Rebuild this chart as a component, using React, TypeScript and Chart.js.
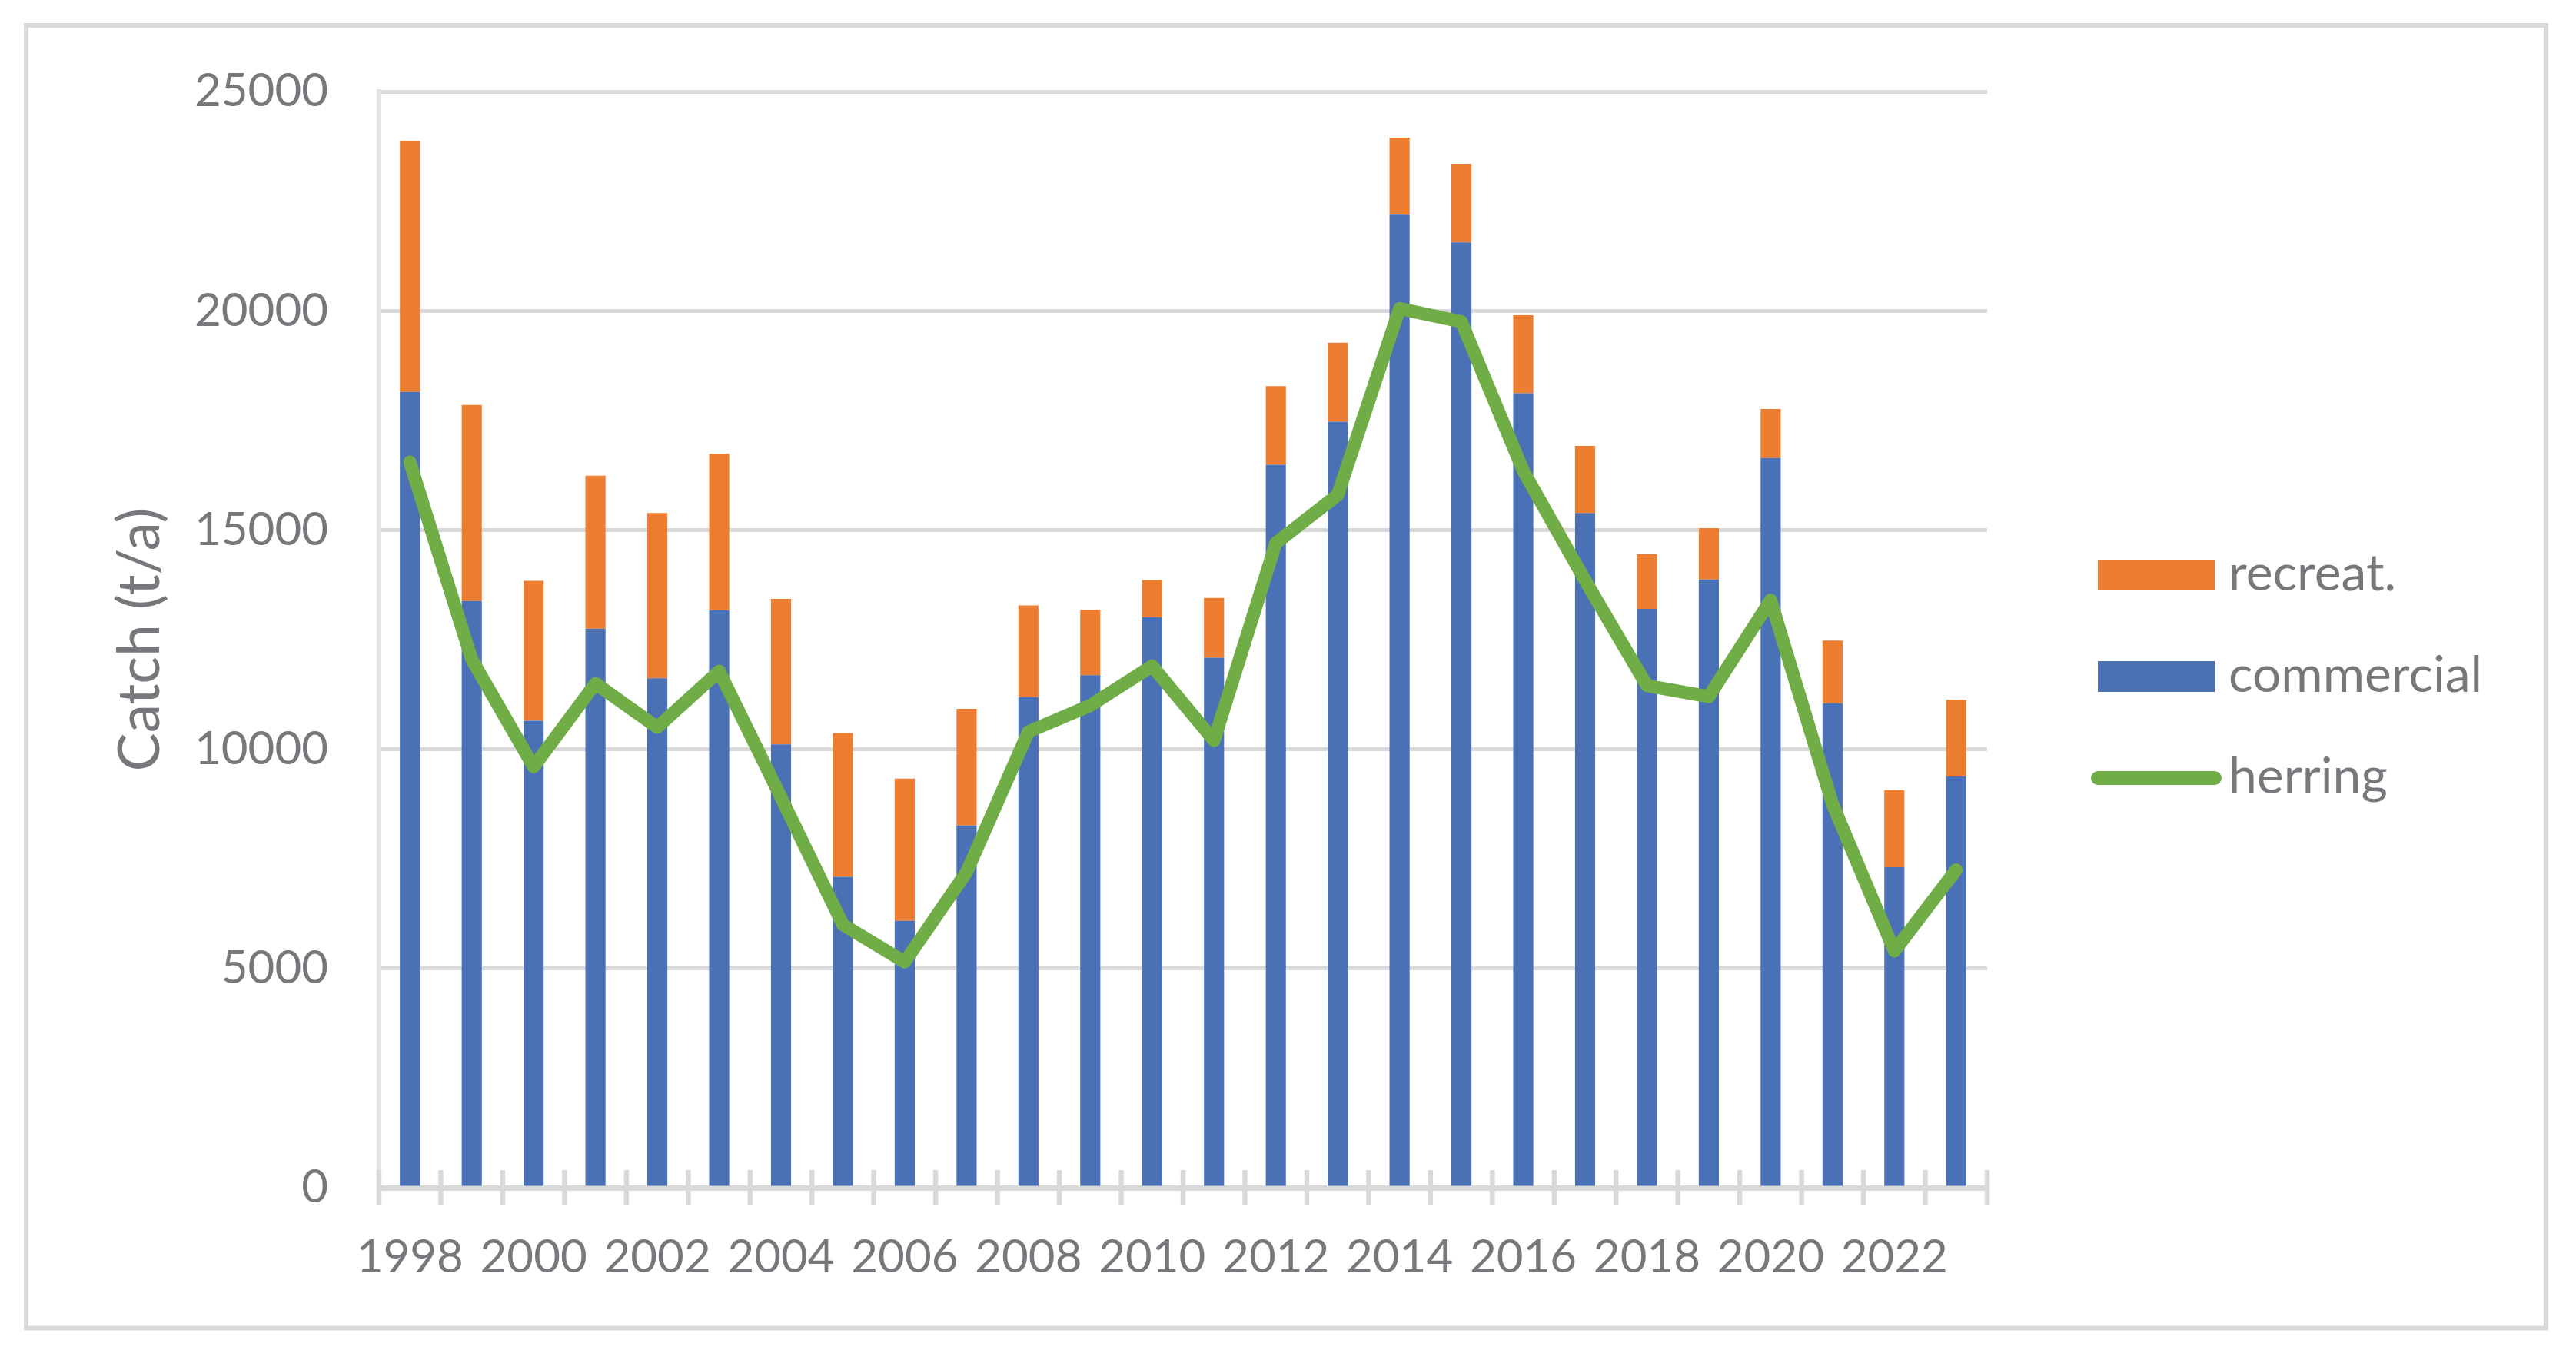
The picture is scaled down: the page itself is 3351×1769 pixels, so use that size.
import React, { useEffect, useRef } from 'react';
import { Chart, registerables } from 'chart.js';

Chart.register(...registerables);

const W = 3351;
const H = 1769;

const YEARS = ['1998', '1999', '2000', '2001', '2002', '2003', '2004', '2005', '2006', '2007', '2008', '2009', '2010', '2011', '2012', '2013', '2014', '2015', '2016', '2017', '2018', '2019', '2020', '2021', '2022', '2023'];
const COMMERCIAL = [18150, 13380, 10650, 12750, 11620, 13170, 10110, 7090, 6090, 8260, 11190, 11690, 13010, 12090, 16490, 17470, 22190, 21560, 18120, 15390, 13200, 13870, 16640, 11050, 7310, 9380];
const RECREAT = [5720, 4470, 3190, 3490, 3770, 3570, 3320, 3280, 3240, 2660, 2090, 1490, 850, 1360, 1790, 1800, 1760, 1790, 1780, 1530, 1250, 1170, 1120, 1430, 1760, 1750];
const HERRING = [16550, 12050, 9600, 11500, 10500, 11780, 8900, 6000, 5150, 7200, 10400, 11000, 11900, 10200, 14700, 15800, 20050, 19750, 16350, 13850, 11450, 11200, 13400, 8750, 5400, 7250];
const LEGEND_ORDER = ['recreat.', 'commercial', 'herring'];

const FONT = 'Lato, "Noto Sans", sans-serif';
const TEXT = '#77787c';
const GRID = '#d9d9d9';
const BLUE = '#4a71b5';
const ORANGE = '#ed7d31';
const GREEN = '#70ad47';

const decorPlugin = {
  id: 'decor',
  afterDraw(chart: any) {
    const ctx = chart.ctx;
    const xs = chart.scales.x;
    const area = chart.chartArea;
    ctx.save();
    // cross tick marks on the category axis
    ctx.strokeStyle = GRID;
    ctx.lineWidth = 6.5;
    for (let i = 0; i <= YEARS.length; i++) {
      const px = xs.getPixelForValue(i - 0.5);
      ctx.beginPath();
      ctx.moveTo(px, area.bottom - 23);
      ctx.lineTo(px, area.bottom + 23);
      ctx.stroke();
    }
    // outer chart border
    ctx.lineWidth = 6;
    ctx.strokeRect(34, 33, 3312 - 34, 1727.5 - 33);

    // legend
    const bx = area.right + 144;
    const bw = 152;
    const bh = 40;
    const firstCenter = area.top + 629;
    const step = 132;
    ctx.font = `66px ${FONT}`;
    ctx.textAlign = 'left';
    ctx.textBaseline = 'alphabetic';
    LEGEND_ORDER.forEach((name, k) => {
      const ds = chart.data.datasets.find((d: any) => d.label === name);
      if (!ds) return;
      const cy = firstCenter + k * step;
      if (ds.type === 'line') {
        ctx.strokeStyle = ds.borderColor;
        ctx.lineWidth = 18;
        ctx.lineCap = 'round';
        ctx.beginPath();
        ctx.moveTo(bx, cy);
        ctx.lineTo(bx + bw, cy);
        ctx.stroke();
      } else {
        ctx.fillStyle = ds.backgroundColor;
        ctx.fillRect(bx, cy - bh / 2, bw, bh);
      }
      ctx.fillStyle = TEXT;
      ctx.fillText(name, bx + bw + 18, cy + 20);
    });
    ctx.restore();
  },
};

export default function App() {
  const ref = useRef<HTMLCanvasElement | null>(null);

  useEffect(() => {
    if (!ref.current) return;
    const chart = new Chart(ref.current, {
      type: 'bar',
      data: {
        labels: YEARS,
        datasets: [
          {
            type: 'line',
            label: 'herring',
            data: HERRING,
            borderColor: GREEN,
            backgroundColor: GREEN,
            borderWidth: 17,
            pointRadius: 0,
            pointHoverRadius: 0,
            tension: 0,
            borderJoinStyle: 'round',
            borderCapStyle: 'round',
            order: 0,
          } as any,
          {
            type: 'bar',
            label: 'commercial',
            data: COMMERCIAL,
            backgroundColor: BLUE,
            categoryPercentage: 1,
            barPercentage: 0.325,
            order: 1,
          },
          {
            type: 'bar',
            label: 'recreat.',
            data: RECREAT,
            backgroundColor: ORANGE,
            categoryPercentage: 1,
            barPercentage: 0.325,
            order: 2,
          },
        ],
      },
      options: {
        animation: false,
        responsive: false,
        devicePixelRatio: 1,
        layout: { padding: { left: 0, top: 119, right: 766, bottom: 0 } },
        plugins: {
          legend: { display: false },
          tooltip: { enabled: false },
          title: { display: false },
        },
        scales: {
          x: {
            stacked: true,
            offset: true,
            grid: { display: false, drawTicks: false, tickLength: 0 },
            border: { display: true, color: GRID, width: 7 },
            ticks: {
              autoSkip: false,
              maxRotation: 0,
              minRotation: 0,
              padding: 55,
              color: TEXT,
              font: { family: FONT, size: 60 },
              callback: function (this: any, val: any, idx: number) {
                return idx % 2 === 0 ? this.getLabelForValue(val) : '';
              },
            },
            afterFit: (scale: any) => {
              scale.height = 224;
            },
          },
          y: {
            stacked: true,
            min: 0,
            max: 25000,
            grid: { color: GRID, lineWidth: 5, drawTicks: false },
            border: { display: true, color: '#e4e4e4', width: 6 },
            ticks: {
              stepSize: 5000,
              padding: 66,
              color: TEXT,
              font: { family: FONT, size: 60 },
              callback: (val: any) => String(val),
            },
            title: {
              display: true,
              text: 'Catch (t/a)',
              color: TEXT,
              font: { family: FONT, size: 75, weight: 'normal' },
              padding: { top: 138, bottom: 0 },
            },
            afterFit: (scale: any) => {
              scale.width = 493;
            },
          },
        },
      },
      plugins: [decorPlugin],
    });
    return () => chart.destroy();
  }, []);

  return (
    <canvas
      ref={ref}
      width={W}
      height={H}
      style={{ position: 'fixed', left: 0, top: 0, width: W, height: H, background: '#ffffff' }}
    />
  );
}
